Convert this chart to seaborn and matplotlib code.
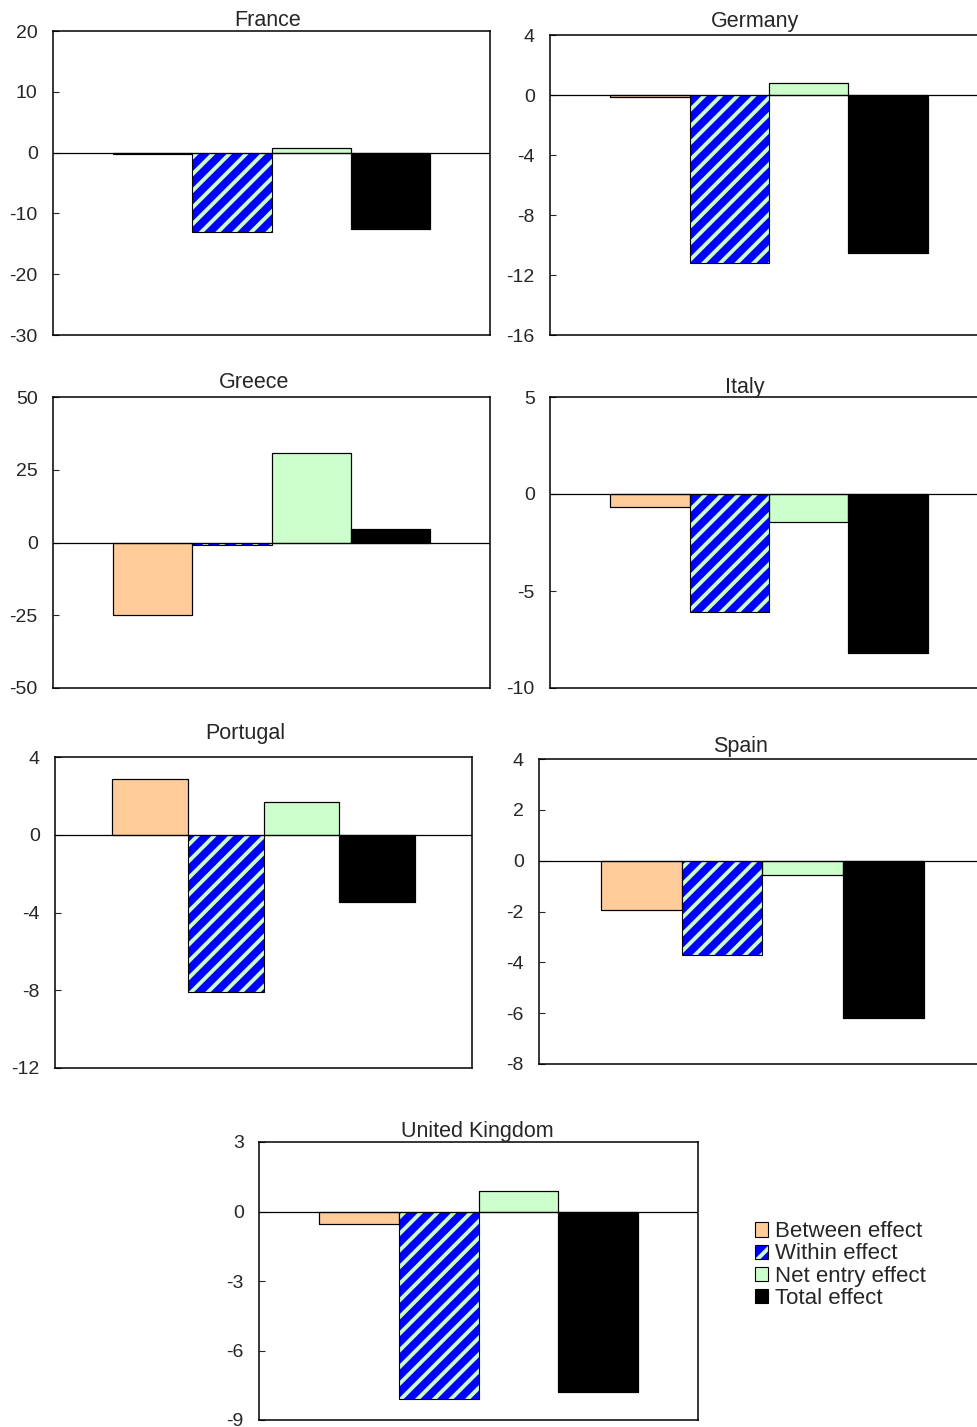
import numpy as np
import pandas as pd
import seaborn as sns
import matplotlib.pyplot as plt
from matplotlib.patches import Patch
from matplotlib.legend_handler import HandlerTuple

effects = ["Between effect", "Within effect", "Net entry effect", "Total effect"]
colors = ["#FFCC99", "#0000FF", "#CCFFCC", "#000000"]
stripe_color = "#CCFFCC"

france = [-0.3, -13.0, 0.8, -12.5]
germany = [-0.1, -11.2, 0.8, -10.5]
greece = [-24.8, -0.8, 30.9, 4.8]
italy = [-0.65, -6.1, -1.45, -8.2]
portugal = [2.85, -8.1, 1.7, -3.45]
spain = [-1.95, -3.7, -0.58, -6.2]
uk = [-0.55, -8.1, 0.88, -7.8]

W, H = 978, 1427

# name, values, y ticks, axes box in pixels (left, top, right, bottom), title centre in pixels
panels = [
    ("France", france, np.arange(-30, 21, 10), (53, 31, 490, 335), (268, 20)),
    ("Germany", germany, np.arange(-16, 5, 4), (550, 35, 988, 335), (755, 21)),
    ("Greece", greece, np.arange(-50, 51, 25), (53, 397, 490, 688), (254, 382)),
    ("Italy", italy, np.arange(-10, 6, 5), (550, 397, 988, 688), (745, 388)),
    ("Portugal", portugal, np.arange(-12, 5, 4), (55, 757, 472, 1068), (245, 734)),
    ("Spain", spain, np.arange(-8, 5, 2), (539, 759, 986, 1064), (741, 746)),
    ("United Kingdom", uk, np.arange(-9, 4, 3), (259, 1142, 698, 1420), (477, 1131)),
]

sns.set_style("white")
plt.rcParams["font.family"] = ["Liberation Sans", "DejaVu Sans"]
plt.rcParams["hatch.linewidth"] = 2.8
plt.rcParams["axes.unicode_minus"] = False

fig = plt.figure(figsize=(W / 100, H / 100), dpi=100)

for name, vals, yt, box, tpos in panels:
    l, t, r, b = box
    ax = fig.add_axes([l / W, 1 - b / H, (r - l) / W, (b - t) / H])
    df = pd.DataFrame({"effect": effects, "value": vals})
    sns.barplot(data=df, x="effect", y="value", hue="effect", palette=colors,
                width=1, saturation=1, errorbar=None, legend=False,
                edgecolor="black", linewidth=0.8, ax=ax)
    for p in ax.patches:
        fc = p.get_facecolor()
        if fc[2] > 0.9 and fc[0] < 0.1:
            p.set_hatch("//")
            p.set_edgecolor(stripe_color)
            p.set_linewidth(0)
    # black outlines on top
    sns.barplot(data=df, x="effect", y="value", fill=False, color="black",
                width=1, errorbar=None, linewidth=0.8, ax=ax)
    ax.axhline(0, color="black", lw=0.9, zorder=5)
    ax.set_xlim(-0.5 - 0.76, 3.5 + 0.76)
    ax.set_ylim(yt[0], yt[-1])
    ax.set_yticks(yt)
    ax.set_xticks([])
    ax.set_xlabel("")
    ax.set_ylabel("")
    ax.tick_params(axis="y", direction="in", length=4, width=0.8, pad=11,
                   labelsize=14, left=True)
    for s in ax.spines.values():
        s.set_visible(True)
        s.set_color("black")
        s.set_linewidth(1.1)
    fig.text(tpos[0] / W, 1 - tpos[1] / H, name, ha="center", va="center",
             fontsize=15.5)

handles = [
    Patch(facecolor=colors[0], edgecolor="black", lw=0.8),
    (Patch(facecolor=colors[1], edgecolor=stripe_color, hatch="//", lw=0),
     Patch(fill=False, edgecolor="black", lw=0.8)),
    Patch(facecolor=colors[2], edgecolor="black", lw=0.8),
    Patch(facecolor=colors[3], edgecolor="black", lw=0.8),
]
fig.legend(handles, effects, loc="center left",
           bbox_to_anchor=(755 / W, 1 - 1265 / H), frameon=False,
           fontsize=16, handlelength=0.6, handleheight=0.6,
           handletextpad=0.3, labelspacing=0.05, borderpad=0,
           borderaxespad=0,
           handler_map={tuple: HandlerTuple(ndivide=1)})

fig.savefig("out.png", dpi=100)
